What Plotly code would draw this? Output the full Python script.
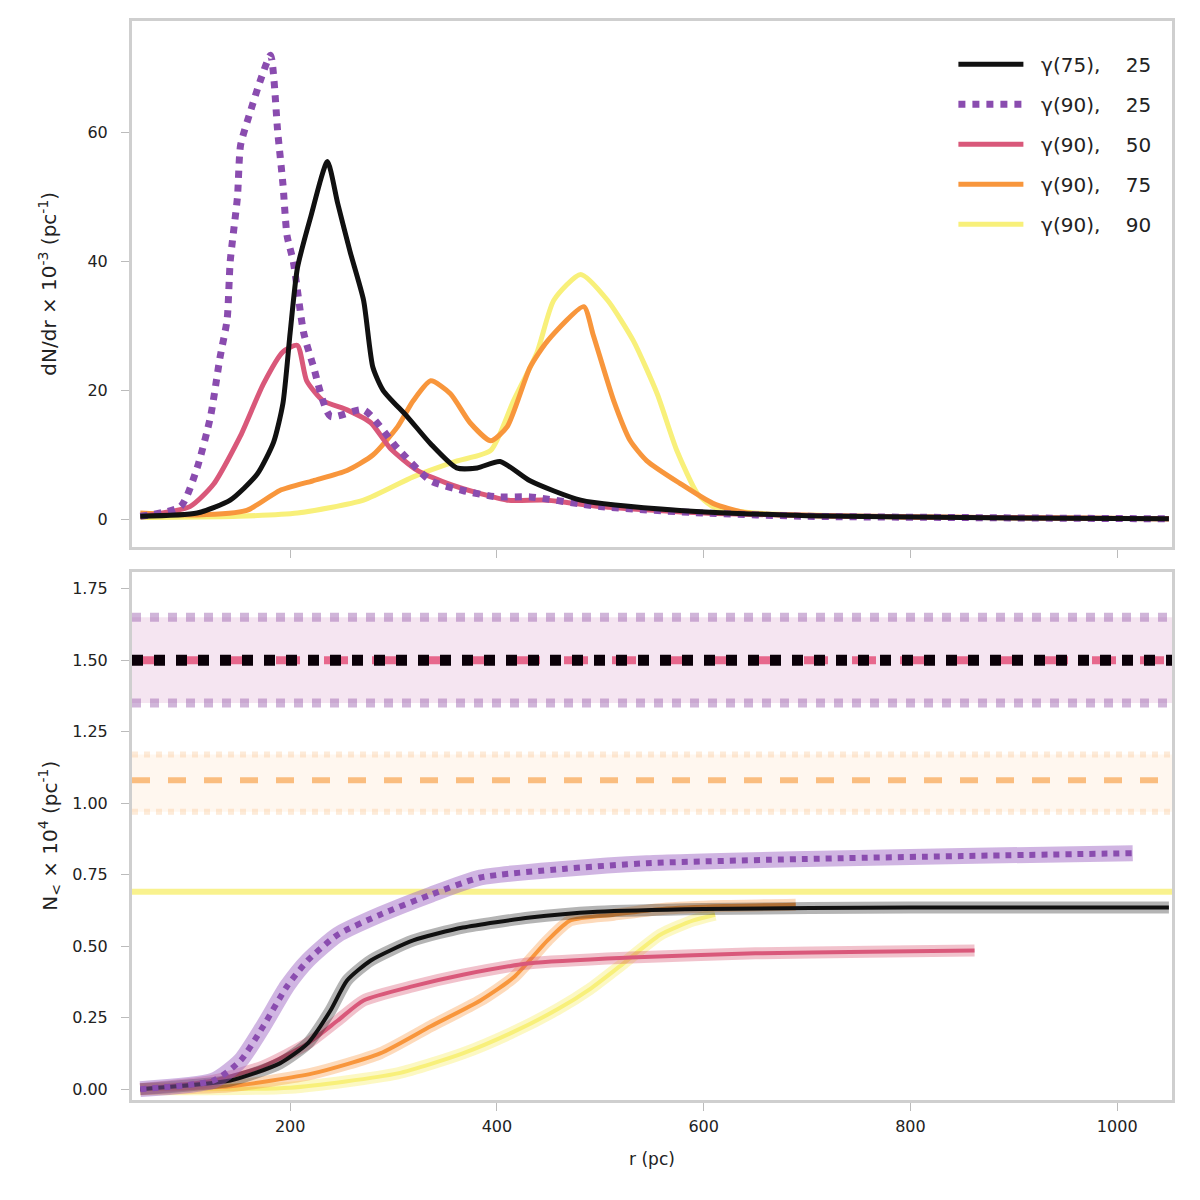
import plotly.graph_objects as go

# top panel: radial distributions
r_black = [55, 110, 142, 168, 184, 193, 200, 207, 220, 236, 246, 258, 271, 280, 290, 313, 336, 361, 381, 403, 432, 481, 577, 700, 850, 1050]
black = [0.5, 1, 3, 7, 12, 18, 29, 39, 47, 55.5, 49, 41.5, 34, 23.6, 20, 16, 11.7, 8, 8, 9, 6, 3, 1.4, 0.6, 0.3, 0.1]

r_purple = [55, 94, 110, 123, 132, 139, 142, 149, 152, 161, 171, 181, 188, 193, 197, 203, 213, 222, 239, 271, 304, 336, 367, 400, 432, 500, 600, 700, 850, 1050]
purple = [0.5, 2, 8, 16, 25, 31, 40, 50, 58, 63, 68, 72, 60, 52, 44, 40, 29, 24, 16, 17, 11, 6, 4.5, 3.5, 3.5, 2, 1, 0.5, 0.3, 0.1]

r_red = [55, 103, 126, 152, 174, 193, 207, 216, 232, 255, 278, 297, 323, 352, 384, 410, 449, 500, 600, 800, 1050]
red = [0.5, 2, 5.5, 13, 21, 26, 27, 21.5, 18.4, 17, 15, 11, 7.6, 5.6, 4, 3, 3, 2, 1, 0.4, 0.1]

r_orange = [55, 110, 158, 190, 222, 255, 280, 304, 319, 336, 355, 374, 394, 410, 432, 449, 484, 493, 513, 529, 545, 577, 609, 642, 800, 1050]
orange = [1, 0.7, 1.4, 4.5, 6, 7.6, 10, 14.4, 18.4, 21.5, 19.5, 15, 12.2, 14.4, 23.6, 27.7, 33, 28.7, 18.4, 12.2, 9.1, 5.6, 2.5, 1, 0.4, 0.1]

r_yellow = [55, 150, 207, 271, 319, 360, 394, 416, 439, 455, 481, 507, 532, 555, 574, 594, 609, 650, 800, 1050]
yellow = [0.3, 0.5, 1, 3, 6.6, 9, 10.7, 18.4, 26, 34, 38, 34, 27.7, 19.5, 10.7, 4, 2, 1, 0.4, 0.1]

# bottom panel: cumulative curves
r_cum_black = [55, 142, 190, 217, 239, 255, 278, 319, 367, 432, 497, 600, 800, 1050]
cum_black = [0, 0.03, 0.09, 0.16, 0.275, 0.38, 0.45, 0.52, 0.565, 0.60, 0.62, 0.63, 0.635, 0.635]

r_cum_purple = [55, 126, 152, 174, 197, 217, 246, 287, 336, 384, 464, 545, 700, 850, 1015]
cum_purple = [0, 0.03, 0.10, 0.22, 0.36, 0.45, 0.54, 0.61, 0.68, 0.74, 0.77, 0.79, 0.805, 0.815, 0.825]

r_cum_red = [55, 126, 174, 217, 246, 271, 319, 367, 432, 529, 650, 760, 862]
cum_red = [0, 0.03, 0.08, 0.16, 0.24, 0.31, 0.36, 0.40, 0.44, 0.46, 0.475, 0.48, 0.485]

r_cum_orange = [55, 142, 222, 287, 336, 384, 416, 449, 471, 513, 560, 620, 689]
cum_orange = [0, 0.01, 0.055, 0.125, 0.22, 0.31, 0.39, 0.52, 0.59, 0.61, 0.63, 0.64, 0.645]

r_cum_yellow = [55, 200, 304, 367, 416, 459, 490, 519, 558, 590, 611]
cum_yellow = [0, 0.005, 0.055, 0.125, 0.2, 0.28, 0.35, 0.43, 0.54, 0.59, 0.61]

# horizontal reference levels in the bottom panel
r_span = [47, 1053]
level_purple_lo, level_purple_hi = 1.35, 1.65
level_black = 1.50
level_red = 1.50
level_orange = 1.08
level_orange_lo, level_orange_hi = 0.97, 1.17
level_yellow = 0.69

names = ["  γ(75),    25", "  γ(90),    25", "  γ(90),    50", "  γ(90),    75", "  γ(90),    90"]
colors = ["#111111", "#8a4caf", "#d9587a", "#f8963c", "#f8f07a"]
faded = ["rgba(40,40,40,0.35)", "rgba(150,90,190,0.45)", "rgba(215,80,110,0.35)",
         "rgba(248,150,60,0.35)", "rgba(248,240,122,0.45)"]

fig = go.Figure()

tops = [(r_black, black, "solid", 5), (r_purple, purple, "dot", 7), (r_red, red, "solid", 5),
        (r_orange, orange, "solid", 5), (r_yellow, yellow, "solid", 5)]
# yellow/orange drawn first, legend order kept via legendrank
for i in [4, 3, 2, 1, 0]:
    rx, ry, dash, w = tops[i]
    fig.add_trace(go.Scatter(x=rx, y=ry, mode="lines", name=names[i], legendgroup=str(i),
                             legendrank=i + 1,
                             line=dict(color=colors[i], width=w, dash=dash, shape="spline", smoothing=0.6),
                             xaxis="x", yaxis="y"))

def hline(y, color, width, dash="solid"):
    fig.add_trace(go.Scatter(x=r_span, y=[y, y], mode="lines", showlegend=False,
                             line=dict(color=color, width=width, dash=dash),
                             xaxis="x2", yaxis="y2"))

def band(lo, hi, fill):
    fig.add_trace(go.Scatter(x=r_span, y=[lo, lo], mode="lines", showlegend=False,
                             line=dict(width=0), xaxis="x2", yaxis="y2"))
    fig.add_trace(go.Scatter(x=r_span, y=[hi, hi], mode="lines", showlegend=False,
                             line=dict(width=0), fill="tonexty", fillcolor=fill,
                             xaxis="x2", yaxis="y2"))

band(level_purple_lo, level_purple_hi, "rgba(225,180,215,0.35)")
hline(level_purple_lo, "rgba(150,90,170,0.45)", 9, "dot")
hline(level_purple_hi, "rgba(150,90,170,0.45)", 9, "dot")
band(level_orange_lo, level_orange_hi, "rgba(252,200,150,0.15)")
hline(level_orange_lo, "rgba(250,190,130,0.3)", 6, "dot")
hline(level_orange_hi, "rgba(250,190,130,0.3)", 6, "dot")
hline(level_orange, "rgba(248,170,90,0.75)", 6, "dash")
hline(level_yellow, "rgba(248,240,122,0.85)", 6)
hline(level_red, "rgba(230,90,130,0.9)", 8, "dash")
hline(level_black, "#0a0008", 11, "dot")

cums = [(r_cum_yellow, cum_yellow, 4), (r_cum_orange, cum_orange, 3), (r_cum_red, cum_red, 2),
        (r_cum_black, cum_black, 0), (r_cum_purple, cum_purple, 1)]
for rx, ry, i in cums:
    fig.add_trace(go.Scatter(x=rx, y=ry, mode="lines", showlegend=False,
                             line=dict(color=faded[i], width=16 if i == 1 else 12, shape="spline", smoothing=0.6),
                             xaxis="x2", yaxis="y2"))
    fig.add_trace(go.Scatter(x=rx, y=ry, mode="lines", showlegend=False,
                             line=dict(color=colors[i], width=6 if i == 1 else 4,
                                       dash="dot" if i == 1 else "solid", shape="spline", smoothing=0.6),
                             xaxis="x2", yaxis="y2"))

axis_common = dict(showline=True, mirror=True, linecolor="#cfcfcf", linewidth=3,
                   ticks="outside", ticklen=8, tickwidth=1, tickcolor="#bbbbbb",
                   showgrid=False, zeroline=False, tickfont=dict(size=16, color="#222"))

fig.update_layout(
    width=1200, height=1200,
    paper_bgcolor="white", plot_bgcolor="white",
    margin=dict(l=124, r=36, t=10, b=108),
    font=dict(family="DejaVu Sans", color="#222"),
    xaxis=dict(domain=[0, 1], anchor="y", range=[47, 1053], tickvals=[200, 400, 600, 800, 1000],
               showticklabels=False, **axis_common),
    yaxis=dict(domain=[0.5129, 1], anchor="x", range=[-4.2, 77.3], tickvals=[0, 20, 40, 60],
               ticklabelstandoff=10,
               title=dict(text="dN/dr × 10<sup>-3</sup> (pc<sup>-1</sup>)", font=dict(size=20), standoff=26),
               **axis_common),
    xaxis2=dict(domain=[0, 1], anchor="y2", range=[47, 1053], tickvals=[200, 400, 600, 800, 1000],
                ticklabelstandoff=2,
                title=dict(text="r (pc)", font=dict(size=17), standoff=18), **axis_common),
    yaxis2=dict(domain=[0, 0.4898], anchor="x2", range=[-0.038, 1.81],
                tickvals=[0, 0.25, 0.5, 0.75, 1.0, 1.25, 1.5, 1.75], tickformat=".2f",
                ticklabelstandoff=10,
                title=dict(text="N<sub><</sub> × 10<sup>4</sup> (pc<sup>-1</sup>)", font=dict(size=20), standoff=10),
                **axis_common),
    legend=dict(x=0.985, y=0.978, xanchor="right", yanchor="top", bgcolor="rgba(255,255,255,0.9)",
                borderwidth=0, font=dict(size=20, color="#222"),
                itemwidth=65, tracegroupgap=11),
)

fig.write_html("out.html")
